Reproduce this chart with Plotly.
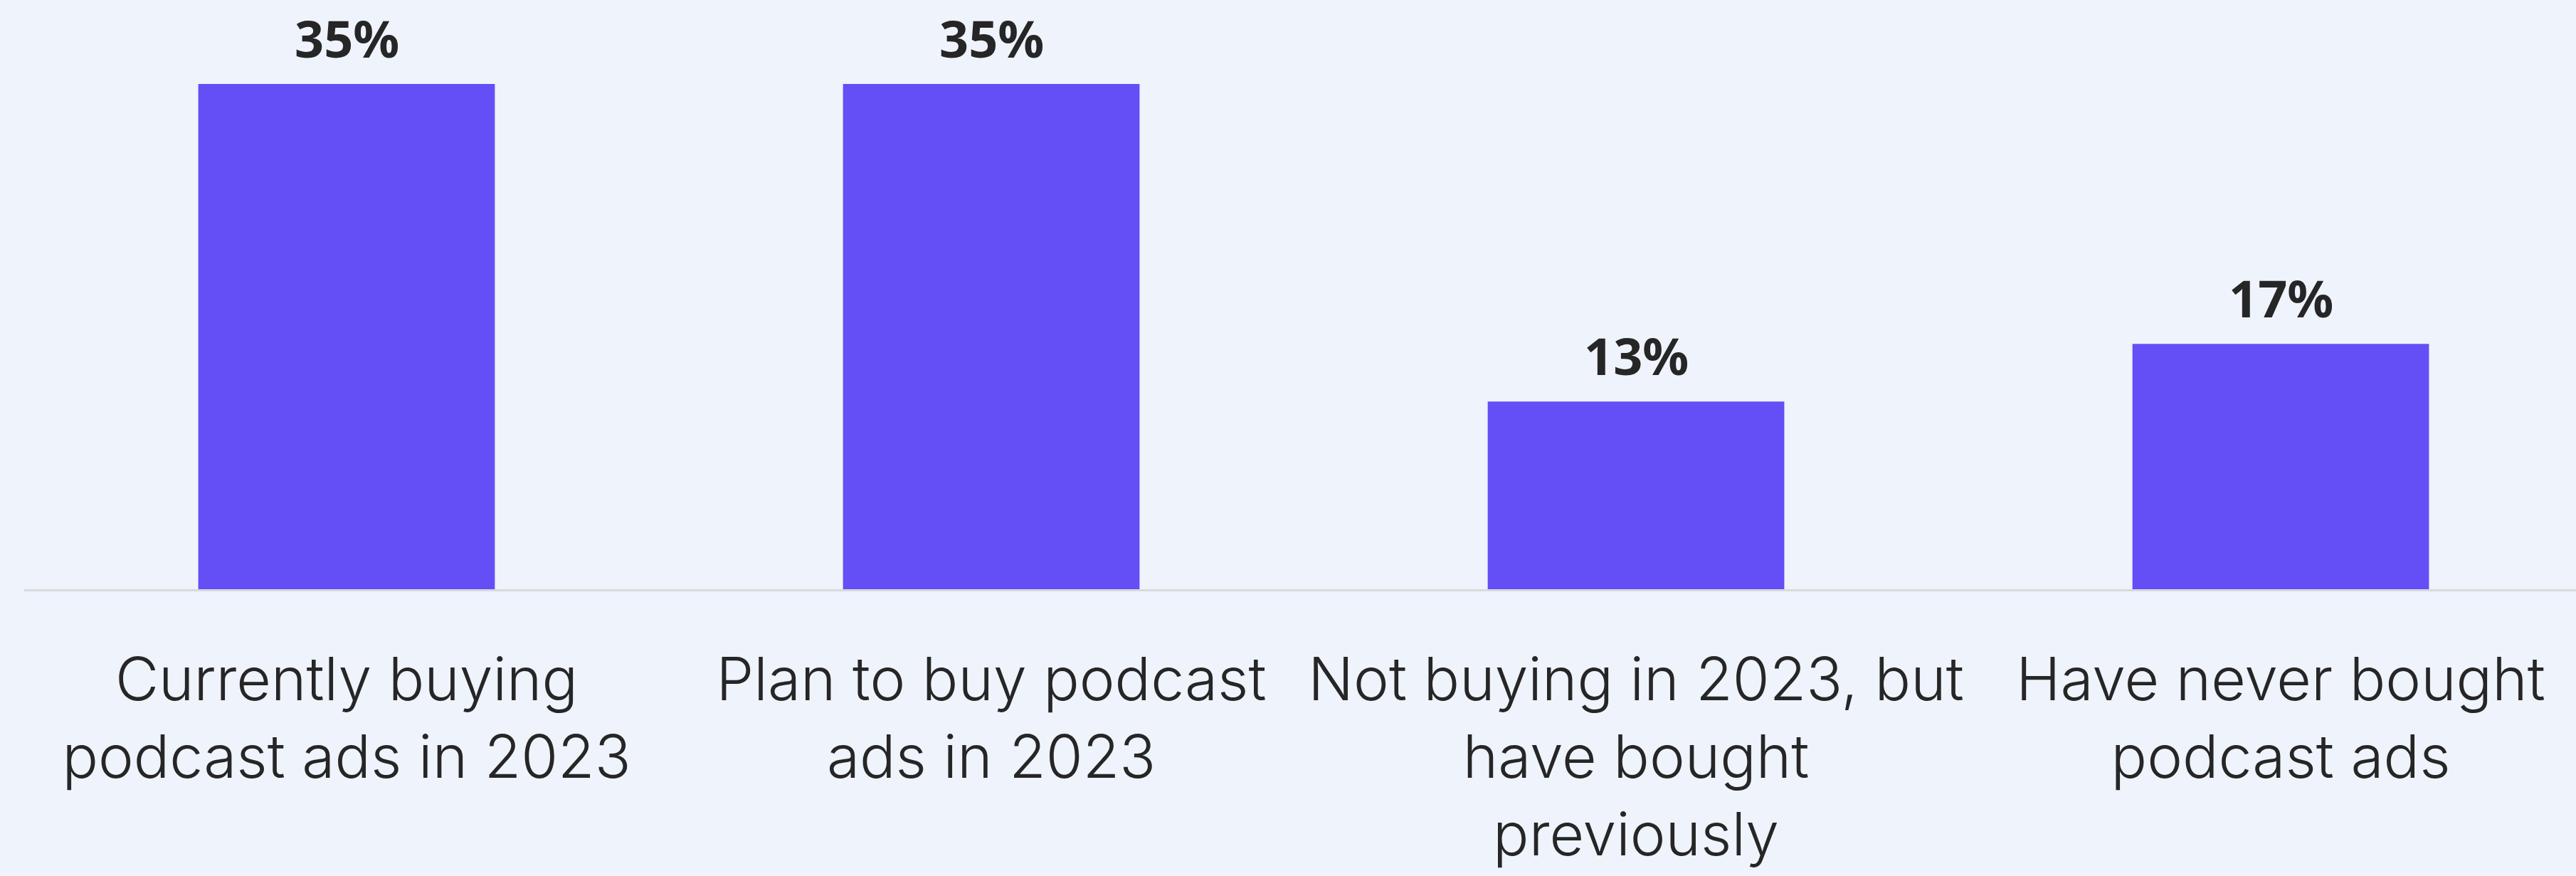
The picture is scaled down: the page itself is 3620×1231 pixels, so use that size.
import plotly.graph_objects as go

# Survey answers about podcast ad buying
categories = [
    "Currently buying<br>podcast ads in 2023",
    "Plan to buy podcast<br>ads in 2023",
    "Not buying in 2023, but<br>have bought<br>previously",
    "Have never bought<br>podcast ads",
]
shares = [35, 35, 13, 17]

BAR_COLOR = "#634FF5"
BG_COLOR = "#EFF3FC"
TEXT_COLOR = "#262626"

x_pos = list(range(len(categories)))

fig = go.Figure(
    go.Bar(
        x=x_pos,
        y=shares,
        marker=dict(color=BAR_COLOR, line=dict(width=0)),
        width=0.46,
        hoverinfo="skip",
    )
)

# Value labels sitting just above each bar
for xi, v in zip(x_pos, shares):
    fig.add_annotation(
        x=xi,
        y=v,
        text=f"<b>{v}%</b>",
        showarrow=False,
        yanchor="bottom",
        yshift=14,
        font=dict(family="Noto Sans", size=72, color=TEXT_COLOR),
    )

fig.update_layout(
    width=3620,
    height=1231,
    margin=dict(l=34, r=0, t=0, b=403),
    paper_bgcolor=BG_COLOR,
    plot_bgcolor=BG_COLOR,
    showlegend=False,
    xaxis=dict(
        range=[-0.5, 3.458],
        tickmode="array",
        tickvals=x_pos,
        ticktext=categories,
        showgrid=False,
        zeroline=False,
        showline=True,
        linecolor="#D9D9D9",
        linewidth=3,
        ticks="",
        ticklabelstandoff=52,
        tickfont=dict(family="Inter", size=84, color=TEXT_COLOR, weight=300),
    ),
    yaxis=dict(
        range=[0, 40.82],
        visible=False,
        showgrid=False,
        zeroline=False,
    ),
)

fig.write_html("out.html")
